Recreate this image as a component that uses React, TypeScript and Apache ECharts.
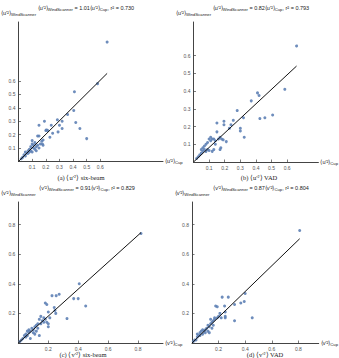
import React, { useEffect, useRef } from "react";
import * as echarts from "echarts";

const pointsA: number[][] = [
  [0.02, 0.02], [0.03, 0.03], [0.04, 0.05], [0.05, 0.04], [0.05, 0.07], [0.06, 0.06], [0.07, 0.08], [0.07, 0.06],
  [0.08, 0.07], [0.08, 0.09], [0.09, 0.08], [0.09, 0.11], [0.1, 0.07], [0.1, 0.13], [0.1, 0.155], [0.11, 0.1],
  [0.11, 0.12], [0.12, 0.09], [0.12, 0.14], [0.13, 0.08], [0.13, 0.11], [0.14, 0.12], [0.14, 0.19], [0.15, 0.19],
  [0.15, 0.27], [0.15, 0.1], [0.16, 0.13], [0.17, 0.15], [0.175, 0.13], [0.18, 0.12], [0.18, 0.16], [0.19, 0.3],
  [0.2, 0.23], [0.205, 0.235], [0.215, 0.23], [0.23, 0.18], [0.24, 0.27], [0.25, 0.21], [0.285, 0.31], [0.29, 0.22],
  [0.3, 0.27], [0.32, 0.245], [0.32, 0.3], [0.36, 0.35], [0.405, 0.38], [0.41, 0.52], [0.42, 0.29], [0.45, 0.245],
  [0.5, 0.17], [0.58, 0.58], [0.65, 0.89],
];
const pointsB: number[][] = [
  [0.02, 0.02], [0.03, 0.03], [0.04, 0.04], [0.05, 0.05], [0.05, 0.07], [0.06, 0.06], [0.06, 0.08], [0.07, 0.07],
  [0.07, 0.09], [0.08, 0.06], [0.08, 0.1], [0.09, 0.07], [0.09, 0.11], [0.1, 0.13], [0.1, 0.065], [0.11, 0.12],
  [0.11, 0.14], [0.12, 0.13], [0.12, 0.06], [0.13, 0.07], [0.13, 0.13], [0.14, 0.12], [0.14, 0.1], [0.15, 0.17],
  [0.15, 0.22], [0.16, 0.13], [0.17, 0.07], [0.17, 0.14], [0.175, 0.08], [0.18, 0.13], [0.19, 0.125], [0.195, 0.21],
  [0.195, 0.23], [0.21, 0.115], [0.23, 0.19], [0.24, 0.21], [0.255, 0.235], [0.28, 0.29], [0.3, 0.19], [0.3, 0.175],
  [0.32, 0.25], [0.325, 0.14], [0.37, 0.345], [0.41, 0.39], [0.42, 0.375], [0.425, 0.245], [0.457, 0.25],
  [0.507, 0.265], [0.585, 0.41], [0.66, 0.655],
];
const pointsC: number[][] = [
  [0.01, 0.01], [0.02, 0.02], [0.03, 0.03], [0.04, 0.05], [0.05, 0.04], [0.05, 0.06], [0.06, 0.05], [0.06, 0.08],
  [0.07, 0.07], [0.07, 0.09], [0.08, 0.03], [0.08, 0.08], [0.09, 0.1], [0.1, 0.09], [0.1, 0.07], [0.11, 0.11],
  [0.11, 0.06], [0.12, 0.12], [0.12, 0.08], [0.13, 0.1], [0.13, 0.13], [0.14, 0.16], [0.14, 0.05], [0.15, 0.13],
  [0.15, 0.18], [0.16, 0.15], [0.17, 0.14], [0.17, 0.17], [0.18, 0.16], [0.18, 0.27], [0.19, 0.26], [0.19, 0.14],
  [0.2, 0.21], [0.2, 0.13], [0.2, 0.11], [0.21, 0.17], [0.225, 0.32], [0.24, 0.24], [0.245, 0.22], [0.25, 0.2],
  [0.253, 0.32], [0.273, 0.33], [0.325, 0.165], [0.37, 0.3], [0.4, 0.3], [0.407, 0.4], [0.45, 0.25], [0.82, 0.74],
];
const pointsD: number[][] = [
  [0.01, 0.01], [0.02, 0.02], [0.03, 0.02], [0.04, 0.04], [0.04, 0.06], [0.05, 0.05], [0.06, 0.07], [0.06, 0.05],
  [0.07, 0.08], [0.08, 0.06], [0.08, 0.09], [0.09, 0.08], [0.1, 0.09], [0.1, 0.07], [0.11, 0.1], [0.12, 0.12],
  [0.12, 0.08], [0.13, 0.11], [0.13, 0.07], [0.14, 0.13], [0.14, 0.16], [0.15, 0.14], [0.15, 0.1], [0.16, 0.15],
  [0.16, 0.12], [0.17, 0.17], [0.17, 0.16], [0.178, 0.25], [0.19, 0.245], [0.19, 0.17], [0.2, 0.18], [0.21, 0.2],
  [0.22, 0.17], [0.227, 0.31], [0.245, 0.25], [0.25, 0.21], [0.25, 0.18], [0.25, 0.17], [0.273, 0.31], [0.32, 0.26],
  [0.32, 0.15], [0.367, 0.27], [0.393, 0.28], [0.4, 0.335], [0.453, 0.17], [0.81, 0.76],
];

const slopes = [1.01, 0.82, 0.91, 0.87];
const rSquared = ["0.730", "0.793", "0.829", "0.804"];
const variables = ["u", "u", "v", "v"];
const captions = ["(a) ⟨u′²⟩ six-beam", "(b) ⟨u′²⟩ VAD", "(c) ⟨v′²⟩ six-beam", "(d) ⟨v′²⟩ VAD"];
const ticksTop = [0.1, 0.2, 0.3, 0.4, 0.5, 0.6];
const ticksBottom = [0.2, 0.4, 0.6, 0.8];

const SANS = "Liberation Sans";
const SERIF = "Liberation Serif";
const POINT_COLOR = "#5e81b5";

const panels = [
  { grid: { left: 18, top: 22, width: 145, height: 139.4 }, xMax: 1.06, yMax: 1.04, ticks: ticksTop, titleX: 86, titleY: 8, capX: 81, capY: 180.5 },
  { grid: { left: 193.5, top: 22, width: 139.5, height: 140 }, xMax: 0.8, yMax: 0.79, ticks: ticksTop, titleX: 261, titleY: 8, capX: 259, capY: 180.5 },
  { grid: { left: 18, top: 202, width: 145, height: 141 }, xMax: 0.967, yMax: 0.953, ticks: ticksBottom, titleX: 87, titleY: 188, capX: 83, capY: 358 },
  { grid: { left: 192, top: 202, width: 143, height: 141 }, xMax: 0.953, yMax: 0.953, ticks: ticksBottom, titleX: 261, titleY: 188, capX: 265, capY: 358 },
];

const allPoints = [pointsA, pointsB, pointsC, pointsD];

const rich = {
  s: { fontSize: 4.2, fontFamily: SANS, color: "#222", verticalAlign: "bottom", padding: [3, 0, 0, 0] },
};

export default function App() {
  const ref = useRef<HTMLDivElement>(null);
  useEffect(() => {
    if (!ref.current) return;
    const chart = echarts.init(ref.current, undefined, { renderer: "svg" });
    const fmt = (v: number) => (Math.round(v * 10) / 10).toFixed(1);
    const grids = panels.map((p) => ({ ...p.grid, containLabel: false }));
    const xAxes = panels.map((p, i) => ({
      type: "value",
      gridIndex: i,
      min: 0,
      max: p.xMax,
      interval: 0.1,
      name: `⟨${variables[i]}′²⟩{s|Cup}`,
      nameLocation: "end",
      nameGap: 2,
      nameTextStyle: { fontSize: 5.5, fontFamily: SANS, color: "#222", verticalAlign: "middle", align: "left", rich },
      axisLine: { show: true, onZero: false, lineStyle: { color: "#444", width: 1 } },
      axisTick: { show: true, inside: true, length: 2.5, customValues: p.ticks, lineStyle: { color: "#444", width: 0.7 } },
      axisLabel: { show: true, customValues: p.ticks, formatter: fmt, fontSize: 5, fontFamily: SANS, color: "#555", margin: 3 },
      splitLine: { show: false },
    }));
    const yAxes = panels.map((p, i) => ({
      type: "value",
      gridIndex: i,
      min: 0,
      max: p.yMax,
      interval: 0.1,
      name: `⟨${variables[i]}′²⟩{s|WindScanner}`,
      nameLocation: "end",
      nameGap: 6,
      nameTextStyle: { fontSize: 5.5, fontFamily: SANS, color: "#222", align: "center", rich },
      axisLine: { show: true, onZero: false, lineStyle: { color: "#444", width: 1 } },
      axisTick: { show: true, inside: true, length: 2.5, customValues: p.ticks, lineStyle: { color: "#444", width: 0.7 } },
      axisLabel: { show: true, customValues: p.ticks, formatter: fmt, fontSize: 5, fontFamily: SANS, color: "#555", margin: 3 },
      splitLine: { show: false },
    }));
    const series: any[] = [];
    allPoints.forEach((pts, i) => {
      const xEnd = Math.max(...pts.map((d) => d[0]));
      series.push({
        type: "line",
        xAxisIndex: i,
        yAxisIndex: i,
        data: [[0, 0], [xEnd, slopes[i] * xEnd]],
        showSymbol: false,
        lineStyle: { color: "#111", width: 1 },
        z: 3,
      });
      series.push({
        type: "scatter",
        xAxisIndex: i,
        yAxisIndex: i,
        data: pts,
        symbolSize: 3,
        itemStyle: { color: POINT_COLOR, opacity: 0.9 },
        z: 2,
      });
    });
    const graphic: any[] = [];
    panels.forEach((p, i) => {
      const v = variables[i];
      graphic.push({
        type: "text",
        x: p.titleX,
        y: p.titleY,
        style: {
          text: `⟨${v}′²⟩{s|WindScanner} = ${slopes[i].toFixed(2)}⟨${v}′²⟩{s|Cup}, r² = ${rSquared[i]}`,
          fontSize: 5.5,
          fontFamily: SANS,
          fill: "#222",
          align: "center",
          verticalAlign: "middle",
          rich,
        },
      });
      graphic.push({
        type: "text",
        x: p.capX,
        y: p.capY,
        style: {
          text: captions[i],
          fontSize: 6.5,
          fontFamily: SERIF,
          fill: "#222",
          align: "center",
          verticalAlign: "bottom",
        },
      });
    });
    chart.setOption({
      animation: false,
      backgroundColor: "#ffffff",
      grid: grids,
      xAxis: xAxes,
      yAxis: yAxes,
      series,
      graphic,
    });
    return () => chart.dispose();
  }, []);
  return (
    <div
      ref={ref}
      style={{ position: "absolute", left: 0, top: 0, width: 339, height: 358 }}
    />
  );
}
